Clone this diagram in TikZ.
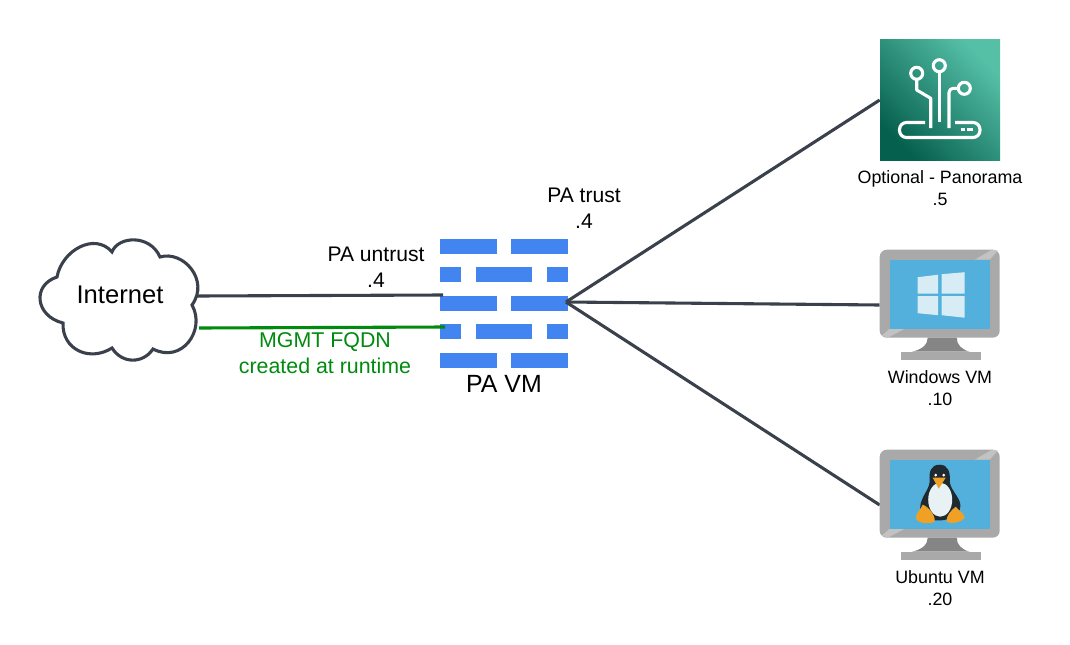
\documentclass[tikz,border=0pt]{standalone}
\usepackage{fontspec}
\setmainfont{Liberation Sans}
\usetikzlibrary{arrows.meta,positioning,calc}
\definecolor{linedark}{HTML}{3A414C}
\definecolor{fwblue}{HTML}{4285F0}
\definecolor{mgmtgreen}{HTML}{008A0E}
\definecolor{framegray}{HTML}{A9A9A9}
\definecolor{framelight}{HTML}{C2C2C2}
\definecolor{neckgray}{HTML}{858585}
\definecolor{screenblue}{HTML}{53B0DC}
\definecolor{panedark}{HTML}{06604E}
\definecolor{panelight}{HTML}{56C0A7}
\definecolor{tuxorange}{HTML}{F0A024}
\definecolor{tuxblack}{HTML}{1E2A30}
\definecolor{winwhite}{HTML}{D8ECF6}
\definecolor{bellywhite}{HTML}{E8F1F4}

\tikzset{
  monitor/.pic={
    \fill[framegray, rounded corners=5pt] (0,0) rectangle (120,88);
    \fill[framelight] (95,10) -- (110,10) -- (118,1) -- (112,0) -- cycle;
    \fill[framelight] (10,79) -- (25,79) -- (8,88) -- (2,86) -- cycle;
    \fill[screenblue] (10,10) rectangle (110,79);
    \fill[neckgray] (48,88) -- (77,88) .. controls (77,95) and (82,100) .. (90,102) -- (32,102) .. controls (42,100) and (48,95) .. (48,88) -- cycle;
    \fill[framegray] (21,102) rectangle (101,110);
  },
  winlogo/.pic={
    \fill[winwhite] (38,27.5) -- (58.5,25) -- (58.5,44) -- (38,44) -- cycle;
    \fill[winwhite] (62,24.5) -- (85,22.5) -- (85,44) -- (62,44) -- cycle;
    \fill[winwhite] (38,46.5) -- (58.5,46.5) -- (58.5,65.5) -- (38,63.5) -- cycle;
    \fill[winwhite] (62,46.5) -- (85,46.5) -- (85,68) -- (62,65.5) -- cycle;
  },
  tux/.pic={
    \fill[tuxblack] (60,15) .. controls (51,15) and (49,22) .. (50,32)
      .. controls (49,42) and (38,50) .. (41,62) .. controls (44,74) and (74,74) .. (80,60)
      .. controls (84,50) and (71,42) .. (70,32) .. controls (71,22) and (68,15) .. (60,15) -- cycle;
    \fill[bellywhite] (60.5,50) ellipse [x radius=12, y radius=17];
    \fill[tuxorange] (53,28) -- (66,28) -- (59,39) -- cycle;
    \fill[white] (56,25.5) circle (1.5) (64,25.5) circle (1.5);
    \fill[tuxorange] (43,55) .. controls (49,57) and (56,66) .. (55,72)
      .. controls (48,75) and (38,73) .. (36,69) .. controls (36,63) and (41,60) .. (43,55) -- cycle;
    \fill[tuxorange] (76,57) .. controls (79,61) and (85,64) .. (85,68)
      .. controls (82,72) and (74,75) .. (67,72) .. controls (66,66) and (72,60) .. (76,57) -- cycle;
  }
}

\begin{document}
\begin{tikzpicture}[x=0.025cm, y=-0.025cm,
  lbl/.style={inner sep=0pt, align=center, font=\fontsize{15}{18.4}\selectfont},
  small/.style={inner sep=0pt, align=center, font=\fontsize{12.7}{15.6}\selectfont},
  iconbox/.style={inner sep=0pt, minimum width=3cm, minimum height=2.75cm},
  arr/.style={line width=2.2pt, linedark},
  fwbar/.style={fill=fwblue},
  trace/.style={line width=2.2pt, white, line join=round}]

\useasboundingbox (0,0) rectangle (1070,644);

% Icon places
\node[inner sep=0pt, minimum size=3cm] (panorama) at (940,100) {};
\node[iconbox] (winvm) at (940,305) {};
\node[iconbox] (ubuntuvm) at (940,505) {};
\coordinate (trustport) at (566,302);
\coordinate (cloudA) at (197,296);
\coordinate (cloudB) at (199,328);
\coordinate (fwA) at (443,295);
\coordinate (fwB) at (445,327);

% Firewall
\foreach \y in {239,296,353} {
  \fill[fwbar] (440,\y) rectangle (497,\y+14.5);
  \fill[fwbar] (511,\y) rectangle (568,\y+14.5);
}
\foreach \y in {267,324} {
  \fill[fwbar] (440,\y) rectangle (461,\y+14.5);
  \fill[fwbar] (476,\y) rectangle (532,\y+14.5);
  \fill[fwbar] (547,\y) rectangle (568,\y+14.5);
}

% Connectors
\draw[arr] (cloudA) -- (fwA);
\draw[arr, mgmtgreen] (cloudB) -- (fwB);
\draw[arr] (trustport) -- (panorama.west);
\draw[arr] (trustport) -- (winvm.west);
\draw[arr] (trustport) -- (ubuntuvm.west);

% Cloud
\draw[arr, fill=white] (63,323) .. controls (35,316) and (32,285) .. (57,277)
  .. controls (62,250) and (95,232) .. (112,252)
  .. controls (118,236) and (150,234) .. (160,257)
  .. controls (183,250) and (210,280) .. (192,305)
  .. controls (206,330) and (182,364) .. (153,349)
  .. controls (143,364) and (122,364) .. (112,348)
  .. controls (90,362) and (62,350) .. (63,323) -- cycle;
\node[inner sep=0pt, font=\fontsize{18.2}{22}\selectfont] (internet) at (120,295) {Internet};

% Panorama icon
\shade[left color=panelight, right color=panedark, shading angle=-45] (880,40) rectangle (1000,160);
\draw[trace] (916.7,73.3) circle (6) (939.3,65.7) circle (6) (964.3,88.3) circle (6);
\draw[trace] (916.7,79.3) -- (916.7,90) -- (930.7,98.3) -- (930.7,128);
\draw[trace] (939.3,71.7) -- (939.3,121.7);
\draw[trace, rounded corners=3pt] (958.3,88.3) -- (949,88.3) -- (949,128);
\draw[trace, rounded corners=5pt] (925,122.5) -- (899.5,122.5) -- (899.5,137.5) -- (980,137.5) -- (980,122.5) -- (955,122.5);
\draw[trace] (960.7,129.5) -- (965,129.5) (967.3,129.5) -- (972.7,129.5);

% Monitors
\pic at (winvm.north west) {monitor};
\pic at (winvm.north west) {winlogo};
\pic at (ubuntuvm.north west) {monitor};
\pic at (ubuntuvm.north west) {tux};

% Labels
\node[lbl] (untrustlbl) at (376,267) {PA untrust\\.4};
\node[lbl] (trustlbl) at (584,208) {PA trust\\.4};
\node[lbl, text=mgmtgreen, font=\fontsize{15.2}{18.4}\selectfont] (mgmtlbl) at (325,353) {MGMT FQDN\\created at runtime};
\node[inner sep=0pt, font=\fontsize{17.7}{21}\selectfont] (fwlbl) at (504,384) {PA VM};
\node[small] (panoramalbl) at (940,188) {Optional - Panorama\\.5};
\node[small] (winlbl) at (940,388) {Windows VM\\.10};
\node[small] (ubuntulbl) at (940,588) {Ubuntu VM\\.20};

\end{tikzpicture}
\end{document}
